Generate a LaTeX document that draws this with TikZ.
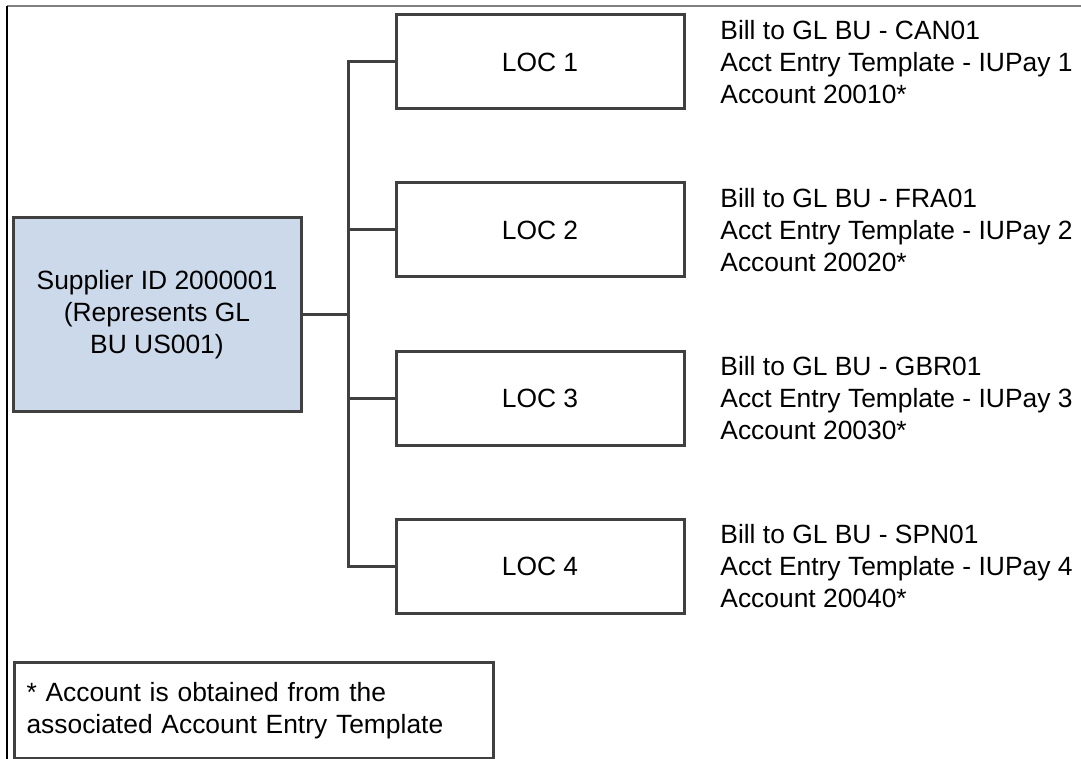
\documentclass[tikz,border=0pt]{standalone}
\usepackage{fontspec}
\setmainfont{Liberation Sans}
\definecolor{boxline}{HTML}{404040}
\definecolor{supfill}{HTML}{CCD9EA}
\tikzset{
	locbox/.style={draw=boxline, line width=1.5pt, fill=white, minimum width=144pt, minimum height=47pt, inner sep=0pt},
	supbox/.style={draw=boxline, line width=1.5pt, fill=supfill, minimum width=144pt, minimum height=96.5pt, align=center, inner sep=0pt},
	notebox/.style={draw=boxline, line width=1.5pt, minimum width=239.5pt, minimum height=48pt, align=left, inner sep=0pt},
	infotext/.style={anchor=west, align=left, inner sep=0pt},
	branch/.style={draw=boxline, line width=1.5pt}
}
\begin{document}
\begin{tikzpicture}[x=0.5pt, y=-0.5pt, font=\fontsize{13.2}{16}\selectfont]
	\useasboundingbox (0,0) rectangle (1081,759);
	% --- page frame ---
	\draw[gray, line width=0.6pt] (7,6) -- (1081,6);
	\draw[black, line width=0.6pt] (7,6) -- (7,759);

	% --- supplier ---
	\node[supbox] (sup) at (157,314.5) {Supplier ID 2000001\\(Represents GL\\BU US001)};

	% --- location boxes and their details ---
	\foreach \i/\yy/\bu/\acct in {1/62/CAN01/20010, 2/230/FRA01/20020, 3/398/GBR01/20030, 4/566/SPN01/20040} {
		\node[locbox] (loc\i) at (540,\yy) {LOC \i};
		\node[infotext] (info\i) at (720,\yy) {Bill to GL BU - \bu\\Acct Entry Template - IUPay \i\\Account \acct*};
	}

	% --- tree connectors ---
	\coordinate (junction) at (348,314.5);
	\draw[branch] (sup.east) -- (junction);
	\draw[branch] (loc1.west) -| (junction) |- (loc4.west);
	\draw[branch] (loc2.west) -- (loc2.west -| junction);
	\draw[branch] (loc3.west) -- (loc3.west -| junction);

	% --- footnote ---
	\node[notebox, anchor=north west, text width=227.5pt, inner xsep=6pt] (note) at (13,661) {* Account is obtained from the\\associated Account Entry Template};
\end{tikzpicture}
\end{document}
